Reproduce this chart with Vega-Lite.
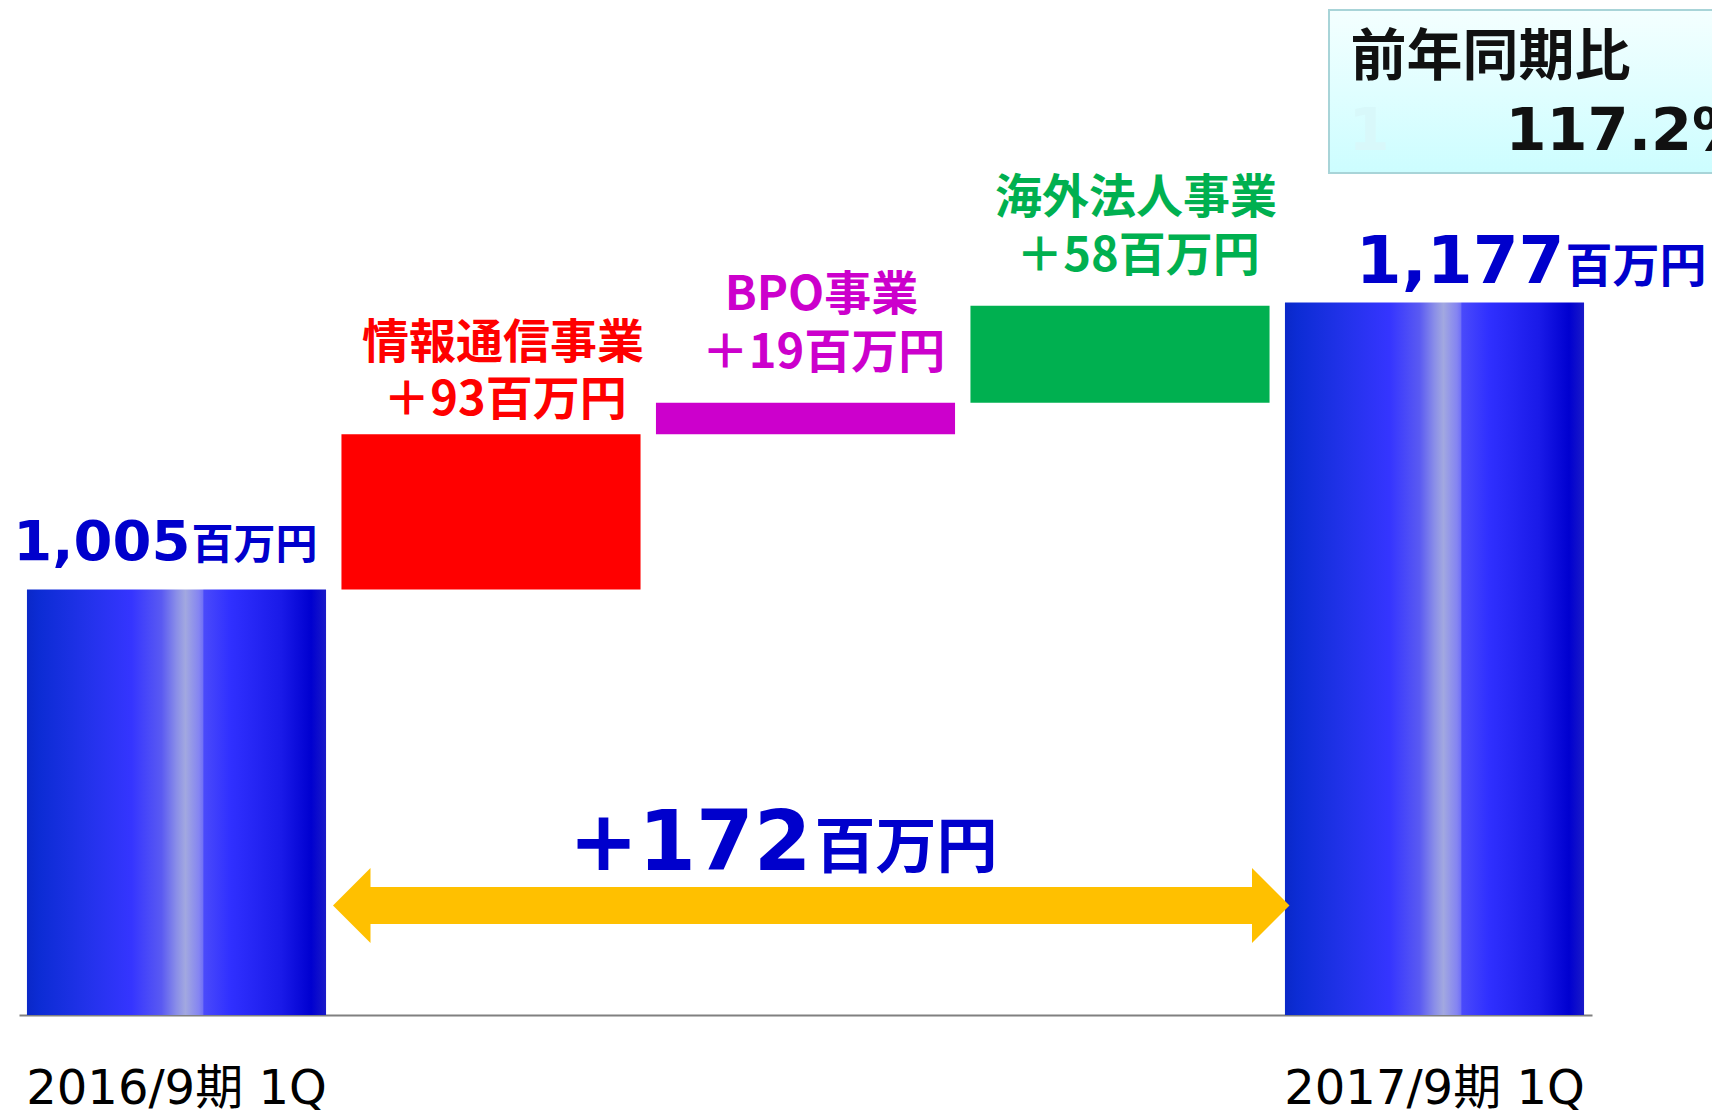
{
  "$schema": "https://vega.github.io/schema/vega-lite/v6.json",
  "width": 1573,
  "height": 1015,
  "autosize": {"type": "none"},
  "padding": {"left": 19, "top": 0, "right": 120, "bottom": 97},
  "background": "white",
  "config": {"view": {"stroke": null}},
  "datasets": {
    "main": [
      {"cat": "2016/9期 1Q", "kind": "total", "start": 0, "end": 1005, "name": "", "label": ""},
      {"cat": "情報通信事業", "kind": "情報通信事業", "start": 1005, "end": 1098, "name": "情報通信事業", "label": "＋93百万円"},
      {"cat": "BPO事業", "kind": "BPO事業", "start": 1098, "end": 1117, "name": "BPO事業", "label": "＋19百万円"},
      {"cat": "海外法人事業", "kind": "海外法人事業", "start": 1117, "end": 1175, "name": "海外法人事業", "label": "＋58百万円"},
      {"cat": "2017/9期 1Q", "kind": "total", "start": 0, "end": 1177, "name": "", "label": ""}
    ],
    "summary": [
      {"diff": 172, "unit": "百万円", "title": "前年同期比", "ratio": "117.2%", "ghost": "1"}
    ]
  },
  "data": {"name": "main"},
  "encoding": {
    "x": {
      "field": "cat",
      "type": "nominal",
      "sort": null,
      "scale": {
        "domain": ["2016/9期 1Q", "情報通信事業", "BPO事業", "海外法人事業", "2017/9期 1Q"],
        "paddingInner": 0.049,
        "paddingOuter": 0.0253
      },
      "axis": {
        "title": null,
        "values": ["2016/9期 1Q", "2017/9期 1Q"],
        "ticks": false,
        "grid": false,
        "labelAngle": 0,
        "labelPadding": 88,
        "labelBaseline": "alphabetic",
        "labelFontSize": 48,
        "labelFont": "DejaVu Sans, Noto Sans CJK JP",
        "labelColor": "#000000",
        "labelLimit": 0,
        "labelOverlap": false,
        "labelBound": false,
        "labelFlush": false,
        "domainColor": "#808080",
        "domainWidth": 2
      }
    }
  },
  "layer": [
    {
      "transform": [{"filter": "datum.kind != 'total'"}],
      "mark": {"type": "bar"},
      "encoding": {
        "y": {"field": "start", "type": "quantitative", "scale": {"domain": [750, 1358.3], "zero": false, "nice": false}, "axis": null},
        "y2": {"field": "end"},
        "color": {
          "field": "kind",
          "type": "nominal",
          "scale": {"domain": ["情報通信事業", "BPO事業", "海外法人事業"], "range": ["#ff0000", "#cc00cc", "#00b050"]},
          "legend": null
        }
      }
    },
    {
      "transform": [{"filter": "datum.kind == 'total'"}],
      "mark": {
        "type": "bar",
        "clip": true,
        "color": {
          "gradient": "linear",
          "x1": 0, "y1": 0, "x2": 1, "y2": 0,
          "stops": [
            {"offset": 0, "color": "#0a28c8"},
            {"offset": 0.04, "color": "#0c2cd4"},
            {"offset": 0.2, "color": "#2232ea"},
            {"offset": 0.35, "color": "#3535ff"},
            {"offset": 0.45, "color": "#5a5af2"},
            {"offset": 0.5, "color": "#8a8ee8"},
            {"offset": 0.53, "color": "#a2a8e0"},
            {"offset": 0.575, "color": "#8484f2"},
            {"offset": 0.589, "color": "#7070f6"},
            {"offset": 0.591, "color": "#4a4afa"},
            {"offset": 0.68, "color": "#3030ff"},
            {"offset": 0.85, "color": "#1a1ae8"},
            {"offset": 0.95, "color": "#0000d0"},
            {"offset": 1, "color": "#1a1ac8"}
          ]
        }
      },
      "encoding": {
        "y": {"field": "start", "type": "quantitative"},
        "y2": {"field": "end"}
      }
    },
    {
      "transform": [{"filter": "datum.cat == '2016/9期 1Q'"}],
      "mark": {"type": "text", "align": "right", "baseline": "alphabetic", "dx": 14, "dy": -30, "font": "DejaVu Sans", "fontWeight": "bold", "fontSize": 56, "color": "#0000cc"},
      "encoding": {
        "y": {"field": "end", "type": "quantitative"},
        "text": {"field": "end", "type": "quantitative", "format": ",d"}
      }
    },
    {
      "transform": [{"filter": "datum.cat == '2016/9期 1Q'"}],
      "mark": {"type": "text", "align": "left", "baseline": "alphabetic", "dx": 15, "dy": -31, "font": "Noto Sans CJK JP", "fontWeight": "bold", "fontSize": 42, "color": "#0000cc"},
      "encoding": {
        "y": {"field": "end", "type": "quantitative"},
        "text": {"value": "百万円"}
      }
    },
    {
      "transform": [{"filter": "datum.cat == '2017/9期 1Q'"}],
      "mark": {"type": "text", "align": "right", "baseline": "alphabetic", "dx": 130, "dy": -20, "font": "DejaVu Sans", "fontWeight": "bold", "fontSize": 66, "color": "#0000cc"},
      "encoding": {
        "y": {"field": "end", "type": "quantitative"},
        "text": {"field": "end", "type": "quantitative", "format": ",d"}
      }
    },
    {
      "transform": [{"filter": "datum.cat == '2017/9期 1Q'"}],
      "mark": {"type": "text", "align": "left", "baseline": "alphabetic", "dx": 131, "dy": -21, "font": "Noto Sans CJK JP", "fontWeight": "bold", "fontSize": 47, "color": "#0000cc"},
      "encoding": {
        "y": {"field": "end", "type": "quantitative"},
        "text": {"value": "百万円"}
      }
    },
    {
      "transform": [{"filter": "datum.kind == '情報通信事業'"}],
      "mark": {"type": "text", "align": "center", "baseline": "middle", "dx": 12, "dy": -90, "font": "Noto Sans CJK JP", "fontWeight": "bold", "fontSize": 47},
      "encoding": {
        "y": {"field": "end", "type": "quantitative"},
        "text": {"field": "name"},
        "color": {"field": "kind", "type": "nominal", "legend": null}
      }
    },
    {
      "transform": [{"filter": "datum.kind == '情報通信事業'"}],
      "mark": {"type": "text", "align": "center", "baseline": "middle", "dx": 14, "dy": -33, "font": "Noto Sans CJK JP", "fontWeight": "bold", "fontSize": 47},
      "encoding": {
        "y": {"field": "end", "type": "quantitative"},
        "text": {"field": "label"},
        "color": {"field": "kind", "type": "nominal", "legend": null}
      }
    },
    {
      "transform": [{"filter": "datum.kind == 'BPO事業' || datum.kind == '海外法人事業'"}],
      "mark": {"type": "text", "align": "center", "baseline": "middle", "dx": 16, "dy": -107, "font": "Noto Sans CJK JP", "fontWeight": "bold", "fontSize": 47},
      "encoding": {
        "y": {"field": "end", "type": "quantitative"},
        "text": {"field": "name"},
        "color": {"field": "kind", "type": "nominal", "legend": null}
      }
    },
    {
      "transform": [{"filter": "datum.kind == 'BPO事業' || datum.kind == '海外法人事業'"}],
      "mark": {"type": "text", "align": "center", "baseline": "middle", "dx": 18, "dy": -49, "font": "Noto Sans CJK JP", "fontWeight": "bold", "fontSize": 47},
      "encoding": {
        "y": {"field": "end", "type": "quantitative"},
        "text": {"field": "label"},
        "color": {"field": "kind", "type": "nominal", "legend": null}
      }
    },
    {
      "data": {"name": "summary"},
      "mark": {"type": "rule", "strokeWidth": 37, "strokeCap": "butt", "color": "#ffc000", "xOffset": 192, "x2Offset": -180},
      "encoding": {
        "x": {"datum": "2016/9期 1Q", "type": "nominal"},
        "x2": {"datum": "2017/9期 1Q"},
        "y": {"datum": 815.6, "type": "quantitative"}
      }
    },
    {
      "data": {"name": "summary"},
      "mark": {"type": "point", "shape": "M -1 0 L 0 -1 L 0 1 Z", "size": 5625, "filled": true, "opacity": 1, "strokeWidth": 0, "color": "#ffc000", "xOffset": 194},
      "encoding": {
        "x": {"datum": "2016/9期 1Q", "type": "nominal"},
        "y": {"datum": 815.6, "type": "quantitative"}
      }
    },
    {
      "data": {"name": "summary"},
      "mark": {"type": "point", "shape": "M 1 0 L 0 -1 L 0 1 Z", "size": 5625, "filled": true, "opacity": 1, "strokeWidth": 0, "color": "#ffc000", "xOffset": -182.5},
      "encoding": {
        "x": {"datum": "2017/9期 1Q", "type": "nominal"},
        "y": {"datum": 815.6, "type": "quantitative"}
      }
    },
    {
      "data": {"name": "summary"},
      "mark": {"type": "text", "align": "right", "baseline": "alphabetic", "dx": 6, "font": "DejaVu Sans", "fontWeight": "bold", "fontSize": 83, "color": "#0000cc"},
      "encoding": {
        "x": {"datum": "BPO事業", "type": "nominal"},
        "y": {"datum": 837, "type": "quantitative"},
        "text": {"field": "diff", "type": "quantitative", "format": "+d"}
      }
    },
    {
      "data": {"name": "summary"},
      "mark": {"type": "text", "align": "left", "baseline": "alphabetic", "dx": 9, "dy": -2, "font": "Noto Sans CJK JP", "fontWeight": "bold", "fontSize": 61, "color": "#0000cc"},
      "encoding": {
        "x": {"datum": "BPO事業", "type": "nominal"},
        "y": {"datum": 837, "type": "quantitative"},
        "text": {"field": "unit"}
      }
    },
    {
      "data": {"name": "summary"},
      "mark": {
        "type": "rect",
        "xOffset": -105.5,
        "x2Offset": 320,
        "stroke": "#a8d4d8",
        "strokeWidth": 2,
        "fill": {
          "gradient": "linear",
          "x1": 0, "y1": 0, "x2": 0, "y2": 1,
          "stops": [
            {"offset": 0, "color": "#f4ffff"},
            {"offset": 1, "color": "#ccfdff"}
          ]
        }
      },
      "encoding": {
        "x": {"datum": "2017/9期 1Q", "type": "nominal", "bandPosition": 0.5},
        "x2": {"datum": "2017/9期 1Q", "bandPosition": 0.5},
        "y": {"datum": 1352.3, "type": "quantitative"},
        "y2": {"datum": 1254.6}
      }
    },
    {
      "data": {"name": "summary"},
      "mark": {"type": "text", "align": "left", "baseline": "middle", "dx": -84, "font": "Noto Sans CJK JP", "fontWeight": "bold", "fontSize": 56, "color": "#111111"},
      "encoding": {
        "x": {"datum": "2017/9期 1Q", "type": "nominal"},
        "y": {"datum": 1323.8, "type": "quantitative"},
        "text": {"field": "title"}
      }
    },
    {
      "data": {"name": "summary"},
      "mark": {"type": "text", "align": "left", "baseline": "alphabetic", "dx": -86, "font": "DejaVu Sans", "fontWeight": "bold", "fontSize": 59, "color": "#d8f8fa"},
      "encoding": {
        "x": {"datum": "2017/9期 1Q", "type": "nominal"},
        "y": {"datum": 1268.4, "type": "quantitative"},
        "text": {"field": "ghost"}
      }
    },
    {
      "data": {"name": "summary"},
      "mark": {"type": "text", "align": "left", "baseline": "alphabetic", "dx": 71, "font": "DejaVu Sans", "fontWeight": "bold", "fontSize": 59, "color": "#111111"},
      "encoding": {
        "x": {"datum": "2017/9期 1Q", "type": "nominal"},
        "y": {"datum": 1268.4, "type": "quantitative"},
        "text": {"field": "ratio"}
      }
    }
  ]
}
